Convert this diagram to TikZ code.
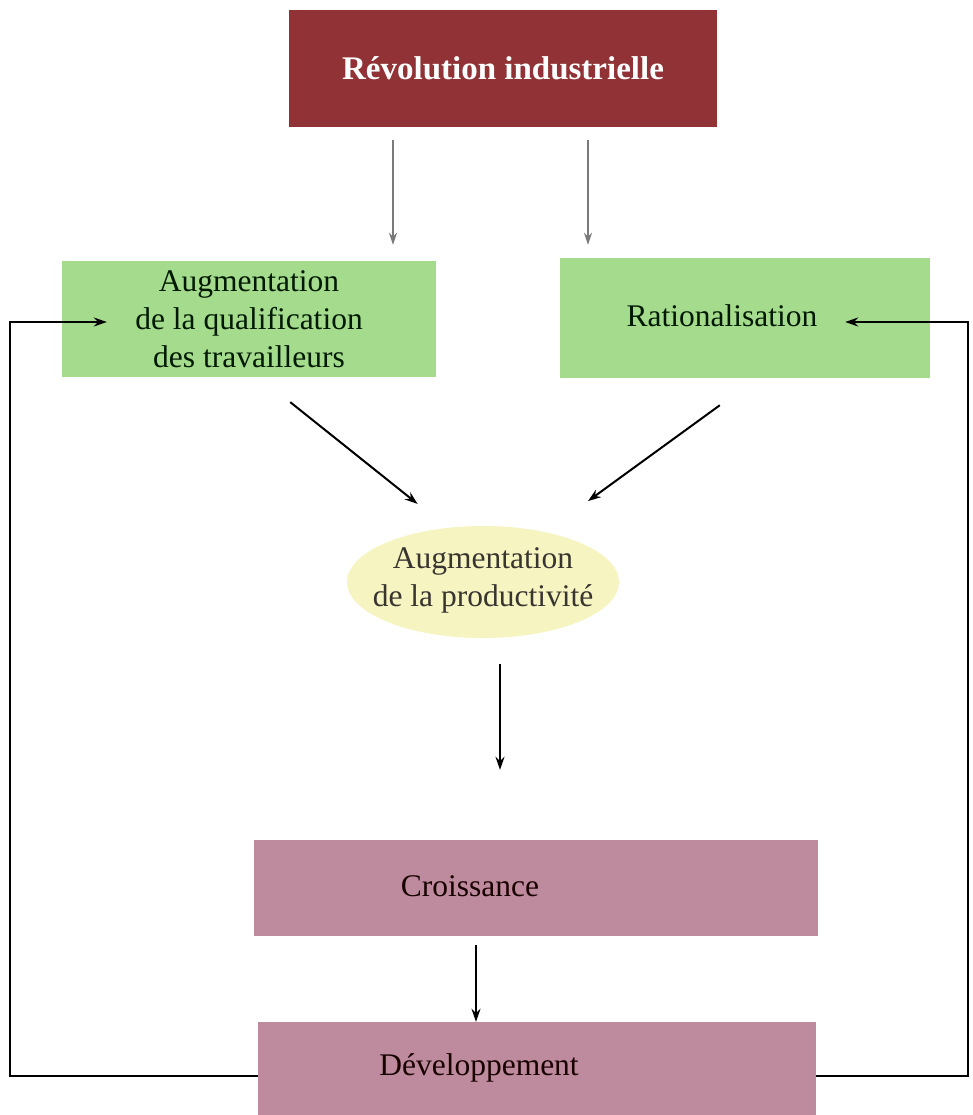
\documentclass[tikz,border=0pt]{standalone}
\usepackage{fontspec}
\setmainfont{Liberation Serif}
\usepackage{tikz}
\usetikzlibrary{arrows.meta,calc,shapes.geometric}

\definecolor{revred}{HTML}{913336}
\definecolor{boxgreen}{HTML}{A4DB8C}
\definecolor{boxpink}{HTML}{BD8B9D}
\definecolor{prodyellow}{HTML}{F6F4C0}
\definecolor{arrgray}{HTML}{7A7A7A}

\tikzset{
  revbox/.style={rectangle, fill=revred, minimum width=428pt, minimum height=117pt, inner sep=0pt},
  greenbox/.style={rectangle, fill=boxgreen, inner sep=0pt},
  pinkbox/.style={rectangle, fill=boxpink, inner sep=0pt},
  prodell/.style={ellipse, fill=prodyellow, minimum width=272pt, minimum height=112pt, inner sep=0pt},
  txt/.style={font=\fontsize{31.5}{38}\selectfont, align=center},
  grayarr/.style={draw=arrgray, line width=2pt, -{Stealth[length=12pt,width=8pt]}},
  blackarr/.style={draw=black, line width=2pt, -{Stealth[length=13pt,width=9pt]}},
}

\begin{document}
\begin{tikzpicture}[x=1pt,y=-1pt]
\clip (0,0) rectangle (972,1115);
\fill[white] (0,0) rectangle (972,1115);

% boxes
\node[revbox, text=white, font=\bfseries\fontsize{33}{38}\selectfont] (rev) at (503,68.5) {R\'evolution industrielle};
\node[greenbox, minimum width=374pt, minimum height=116pt, txt, text={black!90!green}] (qualif) at (249,319)
  {Augmentation\\de la qualification\\des travailleurs};
\node[greenbox, minimum width=370pt, minimum height=120pt] (ratio) at (745,318) {};
\node[txt, text={black!90!green}] (ratiotxt) at (722,316) {Rationalisation};
\node[prodell] (prod) at (483,582) {};
\node[txt, text={black!90!yellow}] (prodtxt) at (483,580) {Augmentation\\de la productivit\'e};
\node[pinkbox, minimum width=564pt, minimum height=96pt] (croiss) at (536,888) {};
\node[txt, text={black!90!red}] (croisstxt) at (470,886) {Croissance};
\node[pinkbox, minimum width=558pt, minimum height=108pt] (dev) at (537,1076) {};
\node[txt, text={black!90!red}] (devtxt) at (479,1068) {D\'eveloppement};

% arrows from the top
\draw[grayarr, shorten <=13pt, shorten >=16pt] ($(rev.south)+(-110,0)$) -- ($(qualif.north)+(144,0)$);
\draw[grayarr, shorten <=13pt, shorten >=13pt] ($(rev.south)+(85,0)$) -- ($(ratio.north)+(-157,0)$);

% towards productivity
\draw[blackarr, shorten <=40pt, shorten >=35pt] ($(qualif.south)+(10,0)$) -- ($(prod.north)+(-38,0)$);
\draw[blackarr, shorten <=46pt, shorten >=42pt] ($(ratio.south)+(12,0)$) -- ($(prod.north)+(71,0)$);
\draw[blackarr, shorten <=26pt, shorten >=70pt] ($(prod.south)+(17,0)$) -- ($(croiss.north)+(-36,0)$);
\draw[blackarr, shorten <=9pt] ($(croiss.south)+(-60,0)$) -- ($(dev.north)+(-61,0)$);

% feedback loops
\draw[blackarr] (dev.west) -| ($(qualif.west)+(-52,3)$) -- ($(qualif.west)+(45,3)$);
\draw[blackarr] (dev.east) -| ($(ratio.east)+(38,4)$) -- ($(ratio.east)+(-85,4)$);
\end{tikzpicture}
\end{document}
